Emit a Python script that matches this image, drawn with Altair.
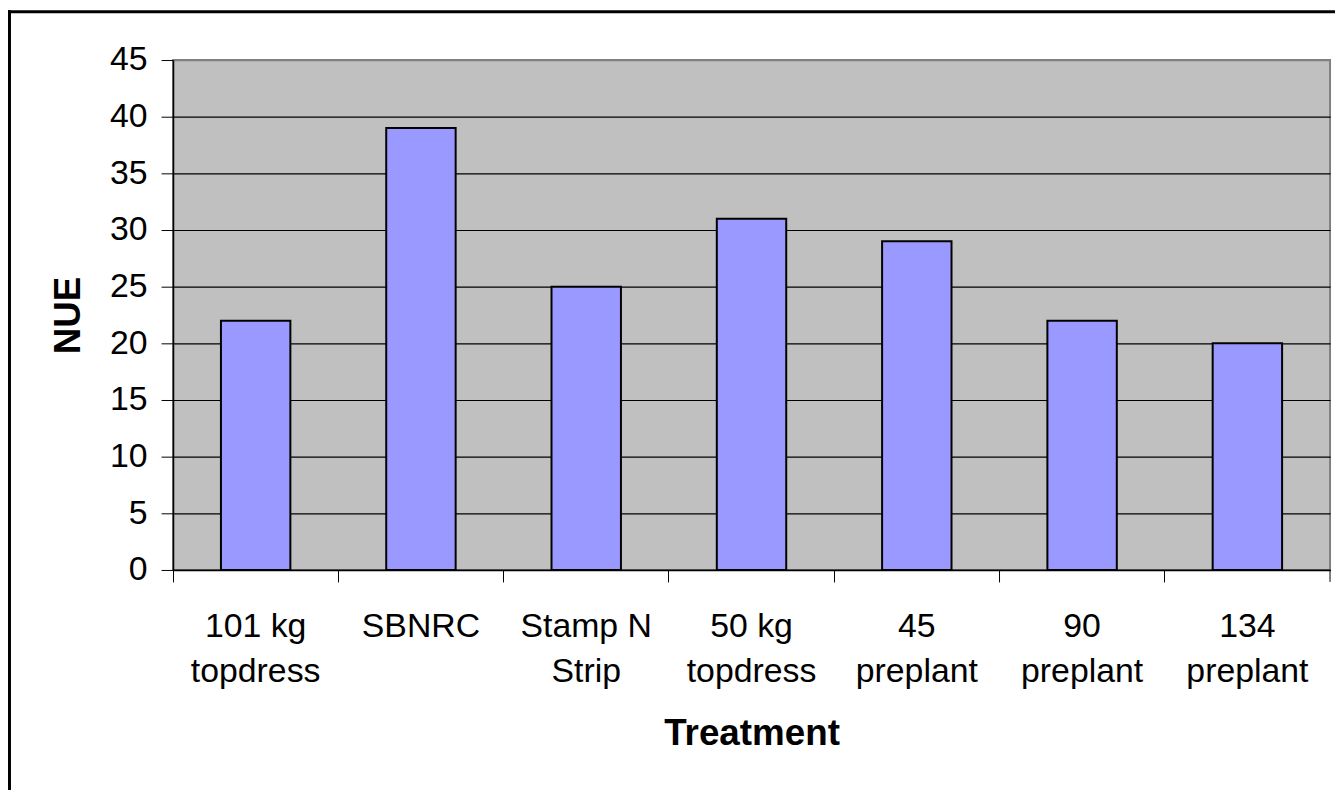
import altair as alt
import pandas as pd

treatments = ["101 kg\ntopdress", "SBNRC", "Stamp N\nStrip", "50 kg\ntopdress",
              "45\npreplant", "90\npreplant", "134\npreplant"]
nue = [22, 39, 25, 31, 29, 22, 20]
y_ticks = [0, 5, 10, 15, 20, 25, 30, 35, 40, 45]

df = pd.DataFrame({"treatment": treatments, "nue": nue})
frame_df = pd.DataFrame({"a": [0]})

FONT = "Liberation Sans"
W, H = 1164, 513

x_enc = alt.X(
    "treatment:N", sort=None,
    scale=alt.Scale(paddingInner=0, paddingOuter=0),
    axis=alt.Axis(
        title="Treatment", labelAngle=0, bandPosition=0,
        labelExpr="split(datum.label, '\\n')",
        labelFont=FONT, labelFontSize=34, labelColor="black",
        labelBaseline="top", labelPadding=28, labelLineHeight=45,
        tickSize=12, tickColor="black", tickWidth=1,
        domainColor="black", domainWidth=1.5,
        titleFont=FONT, titleFontSize=37, titleFontWeight="bold", titleColor="black",
        titleX=W / 2, titleY=176, titleAlign="center", titleBaseline="alphabetic",
        grid=False, labelOverlap=False,
    ),
)

y_enc = alt.Y(
    "nue:Q",
    scale=alt.Scale(domain=[0, 45], nice=False),
    axis=alt.Axis(
        title="NUE", values=y_ticks,
        labelFont=FONT, labelFontSize=34, labelColor="black", labelPadding=14,
        tickSize=12, tickColor="black", tickWidth=1,
        domainColor="black", domainWidth=1.5,
        grid=True,
        gridColor={"condition": {"test": "datum.value === 45", "value": "#808080"}, "value": "black"},
        gridWidth=1.2,
        titleFont=FONT, titleFontSize=37, titleFontWeight="bold", titleColor="black",
        titleAngle=270, titleX=-94, titleY=H / 2, titleAlign="center", titleBaseline="alphabetic",
    ),
)

bars = alt.Chart(df).mark_bar(
    width=alt.RelativeBandSize(0.42), color="#9999FF", stroke="black", strokeWidth=2
).encode(x=x_enc, y=y_enc)

last_tick = alt.Chart(df).transform_filter(
    alt.datum.treatment == treatments[-1]
).mark_rule(color="black", strokeWidth=1).encode(
    x=alt.X("treatment:N", sort=None, bandPosition=1),
    y=alt.value(H), y2=alt.value(H + 12),
)

frame_left = alt.Chart(frame_df).mark_rule(color="black", strokeWidth=3).encode(
    x=alt.value(-164.5), y=alt.value(-50), y2=alt.value(H + 230)
)
frame_top = alt.Chart(frame_df).mark_rule(color="black", strokeWidth=3).encode(
    x=alt.value(-166), x2=alt.value(W + 10), y=alt.value(-48.5)
)

chart = alt.layer(bars, last_tick, frame_left, frame_top).properties(
    width=W, height=H,
    padding={"left": 166, "top": 50, "right": 5, "bottom": 219},
    autosize=alt.AutoSizeParams(type="none"),
    background="white",
).configure_view(
    fill="#C0C0C0", stroke="#808080", strokeWidth=2
)

chart.save("out.html", embed_options={"renderer": "svg", "actions": False})
